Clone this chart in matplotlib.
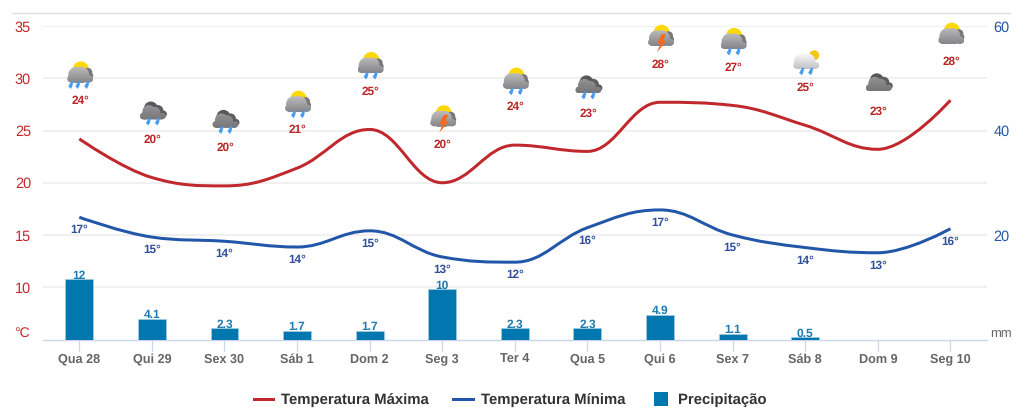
import numpy as np
import matplotlib
matplotlib.use("Agg")
import matplotlib.pyplot as plt
from matplotlib.lines import Line2D
from matplotlib.patches import Circle, PathPatch, Polygon, Rectangle
from matplotlib.path import Path
from matplotlib.transforms import Affine2D, IdentityTransform

W, H = 1029, 419

days = ["Qua 28", "Qui 29", "Sex 30", "Sáb 1", "Dom 2", "Seg 3", "Ter 4",
        "Qua 5", "Qui 6", "Sex 7", "Sáb 8", "Dom 9", "Seg 10"]
temp_max = [24.2, 20.5, 19.7, 21.4, 25.1, 20.0, 23.6, 23.0, 27.7, 27.4, 25.5, 23.2, 27.9]
temp_min = [16.7, 14.8, 14.4, 13.85, 15.4, 12.9, 12.4, 15.7, 17.4, 15.0, 13.8, 13.3, 15.6]
labels_max = [24, 20, 20, 21, 25, 20, 24, 23, 28, 27, 25, 23, 28]
labels_min = [17, 15, 14, 14, 15, 13, 12, 16, 17, 15, 14, 13, 16]
precip = [12, 4.1, 2.3, 1.7, 1.7, 10, 2.3, 2.3, 4.9, 1.1, 0.5, 0, 0]
icons = ["sun_rain3", "dark_rain", "dark_rain", "sun_rain", "sun_rain", "sun_bolt", "sun_rain",
         "dark_rain", "sun_bolt", "sun_rain", "white_rain", "dark", "sun"]

RED = "#c0282d"
BLUE = "#2256a8"
BAR = "#0077ae"
LABEL_RED = "#b92525"
LABEL_BLUE = "#2f4f9b"
GREY = "#666666"


def px(n):
    # tamanho em pixels para pontos
    return n * 0.72


def spline_path(xs, ys, smoothing=1.5):
    # curva igual a do spline do Highcharts
    denom = smoothing + 1
    verts = [(xs[0], ys[0])]
    codes = [Path.MOVETO]
    n = len(xs)
    left = []
    right = []
    for i in range(n):
        if i == 0 or i == n - 1:
            left.append((xs[i], ys[i]))
            right.append((xs[i], ys[i]))
            continue
        lx = (smoothing * xs[i] + xs[i - 1]) / denom
        ly = (smoothing * ys[i] + ys[i - 1]) / denom
        rx = (smoothing * xs[i] + xs[i + 1]) / denom
        ry = (smoothing * ys[i] + ys[i + 1]) / denom
        corr = (ry - ly) * (rx - xs[i]) / (rx - lx) + ys[i] - ry
        ly += corr
        ry += corr
        if ly > ys[i - 1] and ly > ys[i]:
            ly = max(ys[i - 1], ys[i])
            ry = 2 * ys[i] - ly
        elif ly < ys[i - 1] and ly < ys[i]:
            ly = min(ys[i - 1], ys[i])
            ry = 2 * ys[i] - ly
        if ry > ys[i] and ry > ys[i + 1]:
            ry = max(ys[i], ys[i + 1])
            ly = 2 * ys[i] - ry
        elif ry < ys[i] and ry < ys[i + 1]:
            ry = min(ys[i], ys[i + 1])
            ly = 2 * ys[i] - ry
        left.append((lx, ly))
        right.append((rx, ry))
    for i in range(1, n):
        verts += [right[i - 1], left[i], (xs[i], ys[i])]
        codes += [Path.CURVE4] * 3
    return Path(verts, codes)


def cloud_shape(cx, cy, parts, base):
    paths = [Path.circle((cx + dx, cy + dy), r) for dx, dy, r in parts]
    x0, x1, y0, y1 = base
    rect = Path.unit_rectangle().transformed(Affine2D().scale(x1 - x0, y1 - y0).translate(cx + x0, cy + y0))
    paths.append(rect)
    return Path.make_compound_path(*paths)


def draw_cloud(ax, cx, cy, parts, base, top, bottom):
    # nuvem com degrade vertical
    shape = cloud_shape(cx, cy, parts, base)
    ext = shape.get_extents()
    grad = np.linspace(0, 1, 32)[:, None, None]
    rgb = grad * np.array(bottom) + (1 - grad) * np.array(top)
    img = ax.imshow(rgb, extent=(ext.x0, ext.x1, ext.y0, ext.y1), origin="upper", aspect="auto",
                    transform=IdentityTransform(), zorder=6, interpolation="bilinear")
    img.set_clip_path(shape, IdentityTransform())
    ax.set_xlim(-0.5, 12.5)
    ax.set_ylim(5, 35)


def draw_icon(ax, cx, cy, kind):
    # cx, cy em pixels da tela (y para cima), centro da nuvem
    t = IdentityTransform()

    def add(p, z=5):
        p.set_transform(t)
        p.set_clip_on(False)
        p.set_zorder(z)
        ax.add_artist(p)

    light = [(-4, 0, 8), (1, 0, 8), (-9.5, -4, 3.5), (9.5, -4, 3.5)]
    light_base = (-9.5, 9.5, -7.5, -2)
    if kind.startswith("dark"):
        add(Circle((cx - 2, cy + 3), 7, fc="#58585b", ec="none"))
        add(Circle((cx + 5, cy + 1), 5.5, fc="#5e5e61", ec="none"))
        add(Circle((cx + 10.5, cy - 2.5), 3.5, fc="#5e5e61", ec="none"))
        draw_cloud(ax, cx, cy, [(-4, 0, 6.5), (2, -1, 5.5), (-9.5, -4.5, 3.5), (10, -4.5, 3)], (-9, 10, -8, -2),
                   (0.58, 0.58, 0.59), (0.46, 0.46, 0.47))
    elif kind.startswith("white"):
        add(Circle((cx + 8, cy + 6), 5, fc="#f5c518", ec="none"))
        draw_cloud(ax, cx, cy, light, light_base, (0.98, 0.98, 0.98), (0.76, 0.76, 0.78))
    else:
        add(Circle((cx + 0.5, cy + 5.5), 8, fc="#ffd800", ec="none"))
        add(Circle((cx + 7.5, cy + 2.5), 4.5, fc="#77777a", ec="none"))
        add(Circle((cx + 9.5, cy - 1), 3.5, fc="#77777a", ec="none"))
        draw_cloud(ax, cx, cy, light, light_base, (0.74, 0.74, 0.74), (0.52, 0.52, 0.54))

    if "rain" in kind:
        base = [-10, -3, 6] if kind.endswith("3") else [-5, 4]
        for dx in base:
            add(Polygon([(cx + dx - 2, cy - 11.5), (cx + dx + 0.6, cy - 14), (cx + dx + 2.2, cy - 11),
                         (cx + dx + 3, cy - 6.5), (cx + dx + 0.8, cy - 6.5)],
                        closed=True, fc="#4a9bf2", ec="none"), z=7)
    if "bolt" in kind:
        add(Polygon([(cx + 0.5, cy + 4), (cx - 4, cy - 5), (cx - 0.5, cy - 5), (cx - 4, cy - 14),
                     (cx + 5.5, cy - 2.5), (cx + 2, cy - 2.5), (cx + 5, cy + 4)],
                    closed=True, fc="#f56a1e", ec="none"), z=7)


plt.rcParams["font.family"] = ["Liberation Sans", "DejaVu Sans"]
plt.rcParams["text.hinting"] = "no_hinting"

fig = plt.figure(figsize=(W / 100, H / 100), dpi=100)

x_left, x_right, y_top, y_base = 43, 986.7, 26, 339.5
ax = fig.add_axes([x_left / W, 1 - y_base / H, (x_right - x_left) / W, (y_base - y_top) / H])
x = np.arange(len(days))

ax.set_xlim(-0.5, 12.5)
ax.set_ylim(5, 35)
ax.set_yticks([10, 15, 20, 25, 30, 35])
ax.grid(axis="y", color="#f0f0f0", linewidth=1.4)
ax.set_axisbelow(True)
ax.tick_params(axis="y", length=0, pad=px(12), labelsize=px(14.5), labelcolor=RED)
ax.set_xticks(x)
ax.set_xticklabels(days, fontsize=px(12.6), fontweight="bold", color=GREY, va="baseline")
ax.tick_params(axis="x", length=px(11), width=px(1.2), color="#ccd6eb", pad=px(12))
for s in ["top", "left", "right"]:
    ax.spines[s].set_visible(False)
ax.spines["bottom"].set_color("#ccd6eb")
ax.spines["bottom"].set_linewidth(px(1.4))

ax.add_patch(PathPatch(spline_path(x, temp_max), fc="none", ec=RED, lw=px(3), capstyle="butt", zorder=3))
ax.add_patch(PathPatch(spline_path(x, temp_min), fc="none", ec=BLUE, lw=px(3), capstyle="butt", zorder=3))

for i in x:
    ax.annotate(f"{labels_max[i]}°", (i, temp_max[i]), xytext=(0.5, px(38)), textcoords="offset points",
                ha="center", va="center", fontsize=px(11.8), fontweight="bold", color=LABEL_RED, zorder=8)
    ax.annotate(f"{labels_min[i]}°", (i, temp_min[i]), xytext=(0, -px(13)), textcoords="offset points",
                ha="center", va="center", fontsize=px(11.8), fontweight="bold", color=LABEL_BLUE, zorder=8)

# barras usam escala propria, o eixo de mm fica em outro twin
ax_bar = ax.twinx()
ax_bar.set_ylim(0, 62.2)
ax_bar.axis("off")
ax_bar.bar(x, precip, width=0.385, color=BAR, edgecolor="#a9cfe3", linewidth=px(0.6))
for i in x:
    if precip[i] > 0:
        ax_bar.annotate(f"{precip[i]:g}", (i, precip[i]), xytext=(0, px(0.5)), textcoords="offset points",
                        ha="center", va="baseline", fontsize=px(12), fontweight="bold", color="#1f7ab0")

ax_r = ax.twinx()
ax_r.set_ylim(0, 60)
ax_r.set_yticks([20, 40, 60])
ax_r.tick_params(axis="y", length=0, pad=px(7), labelsize=px(14.5), labelcolor=BLUE)
for s in ax_r.spines.values():
    s.set_visible(False)

# icones do tempo acima de cada rotulo
ax_icons = fig.add_axes(ax.get_position(), zorder=5)
ax_icons.set_xlim(-0.5, 12.5)
ax_icons.set_ylim(5, 35)
ax_icons.axis("off")
for i in x:
    bx, by = ax.transData.transform((i, temp_max[i]))
    lift = 66 if icons[i].startswith("dark") else 64
    draw_icon(ax_icons, bx + 1, by + lift, icons[i])


def fig_text(xp, yp, s, **kw):
    fig.text(xp / W, 1 - yp / H, s, **kw)


fig.add_artist(Line2D([12 / W, 1010 / W], [1 - 13 / H, 1 - 13 / H], color="#dddddd", lw=px(1.3)))
fig_text(30, 333, "°C", ha="right", va="center", fontsize=px(14), color=RED)
fig_text(990, 334, "mm", ha="left", va="center", fontsize=px(13), color=GREY)

leg_y = 398.5
text_y = 403.5
fig.add_artist(Line2D([254 / W, 273 / W], [1 - leg_y / H] * 2, color=RED, lw=px(3)))
fig_text(281, text_y, "Temperatura Máxima", ha="left", va="baseline", fontsize=px(14.9), fontweight="bold", color="#333333")
fig.add_artist(Line2D([453 / W, 473 / W], [1 - leg_y / H] * 2, color=BLUE, lw=px(3)))
fig_text(481, text_y, "Temperatura Mínima", ha="left", va="baseline", fontsize=px(14.9), fontweight="bold", color="#333333")
fig.add_artist(Rectangle((654 / W, 1 - 405.5 / H), 14 / W, 14 / H, transform=fig.transFigure, fc=BAR, ec="none"))
fig_text(678, text_y, "Precipitação", ha="left", va="baseline", fontsize=px(14.9), fontweight="bold", color="#333333")

fig.savefig("out.png", dpi=100)
